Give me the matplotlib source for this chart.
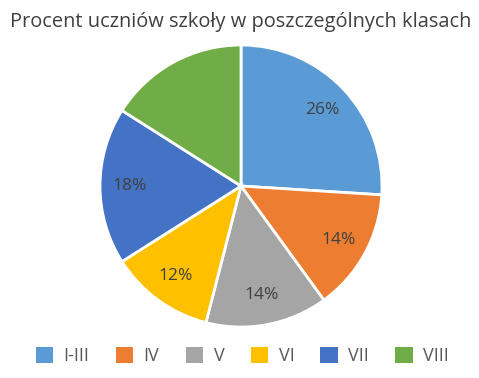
import numpy as np
import matplotlib.pyplot as plt
from matplotlib.patches import Patch

plt.rcParams['font.family'] = ['Open Sans', 'DejaVu Sans']

# Dane
klasy = ['I-III', 'IV', 'V', 'VI', 'VII', 'VIII']
procenty = [26, 14, 14, 12, 18, 16]
pokaz_etykiete = [True, True, True, True, True, False]
kolory = ['#5B9BD5', '#ED7D31', '#A5A5A5', '#FFC000', '#4472C4', '#70AD47']

fig = plt.figure(figsize=(4.79, 3.78), dpi=100)
ax = fig.add_axes([0.2088, 0.1349, 0.5887, 0.746])

wedges, texts = ax.pie(procenty, colors=kolory, startangle=90, counterclock=False,
                       wedgeprops=dict(edgecolor='white', linewidth=2))

# etykiety procentowe (bez VIII)
for w, p, show in zip(wedges, procenty, pokaz_etykiete):
    if not show:
        continue
    ang = np.deg2rad((w.theta1 + w.theta2) / 2)
    r = 0.79
    ax.text(r * np.cos(ang), r * np.sin(ang), f'{p}%', ha='center', va='center',
            fontsize=12.5, color='#404040', fontweight='medium')

ax.set_xlim(-1, 1)
ax.set_ylim(-1, 1)
ax.set_aspect('equal')
ax.axis('off')

fig.text(0.503, 0.942, 'Procent uczniów szkoły w poszczególnych klasach',
         ha='center', va='center', fontsize=14.4, color='#404040')

handles = [Patch(facecolor=c, edgecolor='none') for c in kolory]
leg = fig.legend(handles, klasy, loc='center', bbox_to_anchor=(0.506, 0.058), ncol=6,
                 frameon=False, fontsize=13, handlelength=0.95, handleheight=0.95,
                 columnspacing=1.45, handletextpad=0.6)
for t in leg.get_texts():
    t.set_color('#595959')

fig.savefig('out.png', dpi=100)
